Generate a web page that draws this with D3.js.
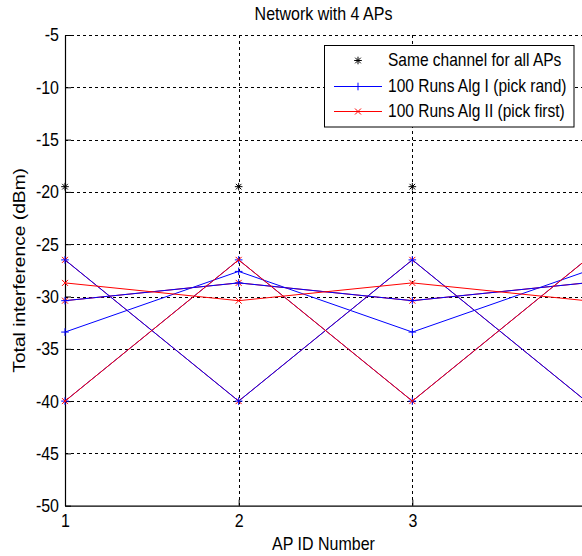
<!DOCTYPE html>
<html>
<head>
<meta charset="utf-8">
<script src="https://cdn.jsdelivr.net/npm/d3@7"></script>
<style>
  html, body { margin: 0; padding: 0; background: #fff; }
  svg { display: block; }
  text { font-family: "Liberation Sans", Arial, sans-serif; fill: #000; }
</style>
</head>
<body>
<script>
// ---- data ----
const apIds = [1, 2, 3, 4];
const xTicks = [1, 2, 3];
const yTicks = [-50, -45, -40, -35, -30, -25, -20, -15, -10, -5];
const sameChannel = [-19.5, -19.5, -19.5, -19.5];
const algIRuns = [
  [-33.4, -27.6, -33.4, -27.6],
  [-30.4, -28.7, -30.4, -28.7],
  [-26.5, -40.0, -26.5, -40.0],
  [-40.0, -26.5, -40.0, -26.5]
];
const algIIRuns = [
  [-30.4, -28.7, -30.4, -28.7],
  [-26.5, -40.0, -26.5, -40.0],
  [-28.7, -30.4, -28.7, -30.4],
  [-40.0, -26.5, -40.0, -26.5]
];
const title = "Network with 4 APs";
const xLabel = "AP ID Number";
const yLabel = "Total interference (dBm)";
const legendLabels = ["Same channel for all APs", "100 Runs Alg I (pick rand)", "100 Runs Alg II (pick first)"];

(function () {
// ---- layout ----
const W = 582, H = 556;
const pL = 65, pR = 586, pT = 35, pB = 505.7;
const FS = 16, SY = 1.15;

const svg = d3.select("body").append("svg").attr("width", W).attr("height", H);

const x = d3.scaleLinear().domain([1, 4]).range([pL, pR]);
const y = d3.scaleLinear().domain([-50, -5]).range([pB, pT]);

// grid
const grid = svg.append("g").attr("stroke", "#000").attr("stroke-width", 1).attr("stroke-dasharray", "3,3");
grid.selectAll("line.h").data(yTicks.filter(v => v > -50)).enter().append("line")
  .attr("x1", pL).attr("x2", pR)
  .attr("y1", d => Math.round(y(d)) + 0.5).attr("y2", d => Math.round(y(d)) + 0.5);
grid.selectAll("line.v").data(xTicks.filter(v => v > 1)).enter().append("line")
  .attr("y1", pT).attr("y2", pB)
  .attr("x1", d => Math.round(x(d)) + 0.5).attr("x2", d => Math.round(x(d)) + 0.5);

// axes
const fmt = d => String(d);
const yAxis = d3.axisLeft(y).tickValues(yTicks).tickSizeInner(-6).tickSizeOuter(0).tickPadding(6).tickFormat(fmt);
const xAxis = d3.axisBottom(x).tickValues(xTicks).tickSizeInner(-6).tickSizeOuter(0).tickPadding(7).tickFormat(fmt);
const gy = svg.append("g").attr("transform", `translate(${pL},0)`).call(yAxis);
const gx = svg.append("g").attr("transform", `translate(0,${pB})`).call(xAxis);
[gx, gy].forEach(g => {
  g.select(".domain").attr("stroke", "#000").attr("stroke-width", 1.2);
  g.selectAll(".tick line").attr("stroke", "#000");
  g.selectAll(".tick text").attr("font-size", FS).attr("font-family", "Liberation Sans, Arial, sans-serif")
    .attr("fill", "#000").attr("transform", `scale(1,${SY})`);
});

// markers
function drawMarker(g, type, cx, cy, color) {
  const p = d3.path();
  if (type === "plus" || type === "star") {
    const r = 3.8;
    p.moveTo(cx - r, cy); p.lineTo(cx + r, cy);
    p.moveTo(cx, cy - r); p.lineTo(cx, cy + r);
  }
  if (type === "x" || type === "star") {
    const r = type === "star" ? 2.8 : 3;
    p.moveTo(cx - r, cy - r); p.lineTo(cx + r, cy + r);
    p.moveTo(cx - r, cy + r); p.lineTo(cx + r, cy - r);
  }
  g.append("path").attr("d", p.toString()).attr("stroke", color).attr("stroke-width", 1).attr("fill", "none");
}

const line = d3.line().x((d, i) => x(apIds[i])).y(d => y(d));
const plot = svg.append("g");

// star series
sameChannel.forEach((v, i) => drawMarker(plot, "star", x(apIds[i]), y(v), "#000"));

// runs, drawn in pairs
for (let k = 0; k < algIRuns.length; k++) {
  [[algIRuns[k], "#0000ff", "plus"], [algIIRuns[k], "#ff0000", "x"]].forEach(([vals, col, mk]) => {
    plot.append("path").attr("d", line(vals)).attr("fill", "none").attr("stroke", col).attr("stroke-width", 1);
    vals.forEach((v, i) => drawMarker(plot, mk, x(apIds[i]), y(v), col));
  });
}

// title & labels
svg.append("text").attr("transform", `translate(${(pL + pR) / 2 - 2},20) scale(1,${SY})`)
  .attr("text-anchor", "middle").attr("font-size", FS).text(title);
svg.append("text").attr("transform", `translate(${(pL + pR) / 2 - 2},550) scale(1,${SY})`)
  .attr("text-anchor", "middle").attr("font-size", FS).text(xLabel);
svg.append("text").attr("transform", `translate(25,${(pT + pB) / 2}) rotate(-90) scale(1.2,1)`)
  .attr("text-anchor", "middle").attr("font-size", FS).text(yLabel);

// legend
const lg = svg.append("g");
lg.append("rect").attr("x", 324.5).attr("y", 45.5).attr("width", 249.5).attr("height", 81.5)
  .attr("fill", "#fff").attr("stroke", "#000").attr("stroke-width", 1);
const rows = [60, 86, 111];
const legendStyles = [["#000", "star", false], ["#0000ff", "plus", true], ["#ff0000", "x", true]];
legendLabels.forEach((lab, i) => {
  const [col, mk, hasLine] = legendStyles[i];
  if (hasLine) lg.append("line").attr("x1", 334).attr("x2", 382).attr("y1", rows[i] + 0.5).attr("y2", rows[i] + 0.5)
    .attr("stroke", col).attr("stroke-width", 1);
  drawMarker(lg, mk, 358, rows[i] + 0.5, col);
  lg.append("text").attr("transform", `translate(388,${rows[i] + 5.5}) scale(0.97,${SY})`)
    .attr("font-size", FS).text(lab);
});
})();
</script>
</body>
</html>
